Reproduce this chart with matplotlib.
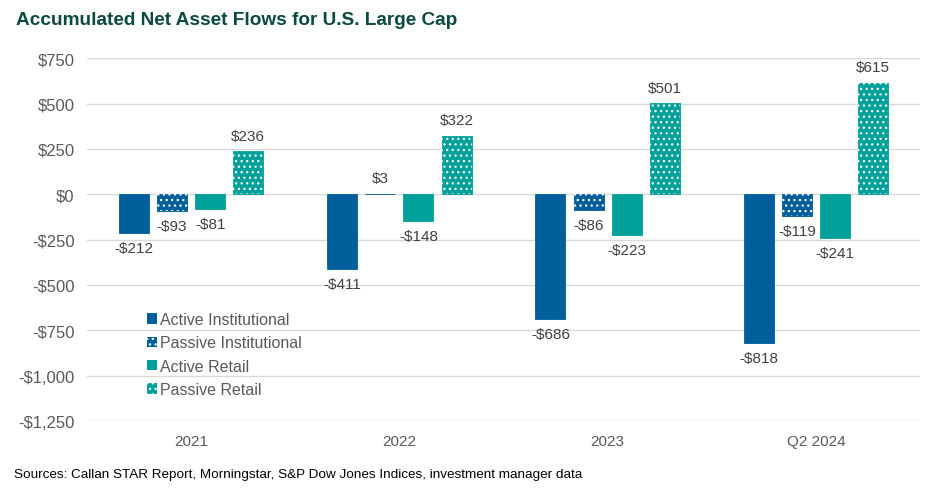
import matplotlib
matplotlib.use("Agg")
import matplotlib.pyplot as plt
from matplotlib.patches import Patch
import numpy as np

plt.rcParams["font.family"] = ["Liberation Sans", "DejaVu Sans"]
plt.rcParams["hatch.linewidth"] = 0.9

categories = ["2021", "2022", "2023", "Q2 2024"]
series_names = ["Active Institutional", "Passive Institutional", "Active Retail", "Passive Retail"]
active_inst = [-212, -411, -686, -818]
passive_inst = [-93, 3, -86, -119]
active_retail = [-81, -148, -223, -241]
passive_retail = [236, 322, 501, 615]
yticks = [750, 500, 250, 0, -250, -500, -750, -1000, -1250]

colors = ["#005E9A", "#005E9A", "#00A19A", "#00A19A"]
hatches = [None, "...", None, "..."]
series = [active_inst, passive_inst, active_retail, passive_retail]


def money(v):
    return f"-${abs(v):,}" if v < 0 else f"${v:,}"


fig = plt.figure(figsize=(9.34, 4.89), dpi=100)
ax = fig.add_axes([0.0931, 0.137, 0.892, 0.742])

x = np.arange(len(categories))
width = 0.144
step = 0.183
offsets = (np.arange(4) - 1.5) * step

handles = []
for vals, name, col, h, off in zip(series, series_names, colors, hatches, offsets):
    # plain bar with a thin edge so tiny values (the $3) still show
    bars = ax.bar(x + off, vals, width, color=col, edgecolor=col, linewidth=0.6, zorder=3)
    if h:
        ax.bar(x + off, vals, width, facecolor="none", hatch=h, edgecolor="white",
               linewidth=0, zorder=4)
    handles.append(Patch(facecolor=col, hatch=h, edgecolor="white" if h else col,
                         linewidth=0, label=name))
    for b, v in zip(bars, vals):
        if v >= 0:
            ax.annotate(money(v), (b.get_x() + b.get_width() / 2, v), xytext=(0, 6),
                        textcoords="offset points", ha="center", va="bottom",
                        fontsize=11, color="#404040")
        else:
            ax.annotate(money(v), (b.get_x() + b.get_width() / 2, v), xytext=(0, -6),
                        textcoords="offset points", ha="center", va="top",
                        fontsize=11, color="#404040")

ax.set_ylim(-1250, 750)
ax.set_xlim(-0.5, len(categories) - 0.5)
ax.set_yticks(yticks)
ax.set_yticklabels([money(v) for v in yticks])
ax.set_xticks(x)
ax.set_xticklabels(categories)
ax.tick_params(axis="y", length=0, labelsize=12, labelcolor="#595959", pad=9)
ax.tick_params(axis="x", length=0, labelsize=11, labelcolor="#595959", pad=9)
ax.grid(axis="y", color="#D9D9D9", linewidth=1, zorder=0)
for s in ax.spines.values():
    s.set_visible(False)

leg = ax.legend(handles=handles, loc="upper left", bbox_to_anchor=(0.072, 0.30), frameon=False,
                borderpad=0, borderaxespad=0, fontsize=11.5, handlelength=0.6,
                handleheight=0.6, handletextpad=0.2, labelspacing=0.52)
for t in leg.get_texts():
    t.set_color("#595959")

fig.text(0.017, 0.958, "Accumulated Net Asset Flows for U.S. Large Cap",
         fontsize=13.7, fontweight="bold", color="#0B4A3C", va="center")
fig.text(0.015, 0.029, "Sources: Callan STAR Report, Morningstar, S&P Dow Jones Indices, investment manager data",
         fontsize=9.7, color="#000000", va="center")

fig.savefig("out.png", dpi=100)
